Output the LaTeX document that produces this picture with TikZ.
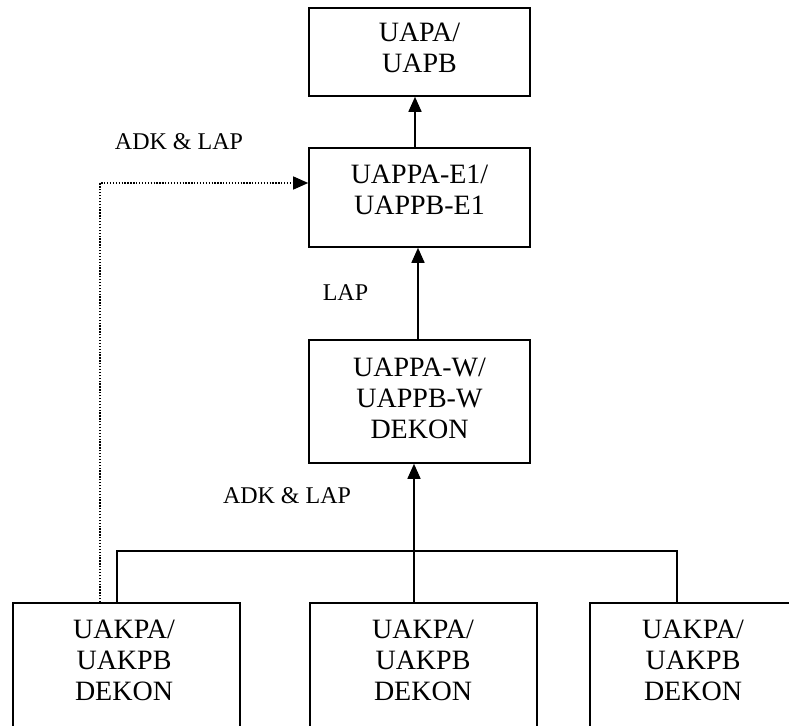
\documentclass[tikz,border=0pt]{standalone}
\usepackage{fontspec}
\setmainfont{Liberation Serif}
\usetikzlibrary{arrows.meta,calc}
\begin{document}
\begin{tikzpicture}[x=1pt,y=-1pt,
  box/.style={draw,line width=1.6pt,inner sep=0pt},
  txt/.style={align=center,font=\fontsize{28}{31}\selectfont},
  lbl/.style={font=\fontsize{24}{28}\selectfont},
  ln/.style={line width=1.6pt},
  tip/.style={-{Triangle[length=15pt,width=13pt]}},
  arr/.style={ln,tip},
  dots/.style={line width=1.3pt,dash pattern=on 1.3pt off 1.6pt,tip}]
\useasboundingbox (0,0) rectangle (789,725);

% boxes
\node[box,minimum width=221pt,minimum height=88pt] (uapa) at (419.5,52) {};
\node[box,minimum width=221pt,minimum height=99pt] (e1) at (419.5,197.5) {};
\node[box,minimum width=221pt,minimum height=123pt] (w) at (419.5,401.5) {};
\node[box,minimum width=227pt,minimum height=150pt] (b1) at (126.5,678) {};
\node[box,minimum width=227pt,minimum height=150pt] (b2) at (423.5,678) {};
\node[box,minimum width=227pt,minimum height=150pt] (b3) at (703.5,678) {};

% box texts
\node[txt] (tu) at (419.5,48) {UAPA/\\UAPB};
\node[txt] (te) at (419.5,190) {UAPPA-E1/\\UAPPB-E1};
\node[txt] (tw) at (419.5,398) {UAPPA-W/\\UAPPB-W\\DEKON};
\node[txt] (t1) at (124,660) {UAKPA/\\UAKPB\\DEKON};
\node[txt] (t2) at (423,660) {UAKPA/\\UAKPB\\DEKON};
\node[txt] (t3) at (693,660) {UAKPA/\\UAKPB\\DEKON};

% labels
\node[lbl] (l1) at (179,142) {ADK \& LAP};
\node[lbl] (l2) at (345.5,293) {LAP};
\node[lbl] (l3) at (287,496) {ADK \& LAP};

% connector points
\coordinate (x1) at (415,0);
\coordinate (x2) at (418,0);
\coordinate (bus) at (414,551);
\coordinate (j1) at (117,551);
\coordinate (j3) at (677,551);
\coordinate (d) at (100,183);

% connectors
\draw[arr] (e1.north -| x1) -- (uapa.south -| x1);
\draw[arr] (w.north -| x2) -- (e1.south -| x2);
\draw[arr] (bus) -- (w.south -| bus);
\draw[ln] (bus) -- (b2.north -| bus);
\draw[ln] (b1.north -| j1) -- (j1) -- (j3) -- (b3.north -| j3);
\draw[dots] (b1.north -| d) -- (d) -- (e1.west |- d);
\end{tikzpicture}
\end{document}
